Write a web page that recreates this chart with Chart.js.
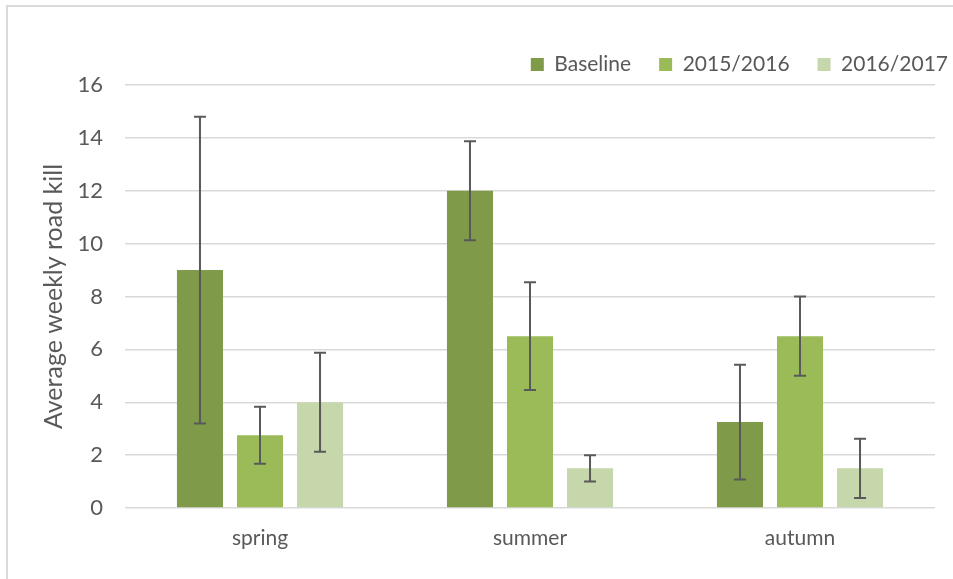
<!DOCTYPE html>
<html>
<head>
<meta charset="utf-8">
<script src="https://cdn.jsdelivr.net/npm/chart.js@4.4.0/dist/chart.umd.min.js"></script>
<style>
  body { margin: 0; overflow: hidden; background: #fff; width: 953px; height: 579px; }
  #frame { position: absolute; left: 6px; top: 5px; width: 1000px; height: 700px;
           border-top: 2px solid #d9d9d9; border-left: 2px solid #d9d9d9; }
  #wrap { position: absolute; left: 0; top: 0; width: 976px; height: 579px; }
</style>
</head>
<body>
<div id="frame"></div>
<div id="wrap"><canvas id="roadKillChart" width="976" height="579"></canvas></div>
<script>
// categorias e valores
const seasons = ['spring', 'summer', 'autumn'];
const baseline = [9, 12, 3.25];
const season1516 = [2.75, 6.5, 6.5];
const season1617 = [4, 1.5, 1.5];

// barras de erro (+/-)
const baselineErr = [5.8, 1.87, 2.17];
const err1516 = [1.08, 2.04, 1.5];
const err1617 = [1.87, 0.5, 1.12];

const yTicks = [0, 2, 4, 6, 8, 10, 12, 14, 16];

const errors = [baselineErr, err1516, err1617];

// Plugin simples para desenhar as barras de erro
const errorBarPlugin = {
    id: 'errorBars',
    afterDatasetsDraw(chart) {
        const ctx = chart.ctx;
        const yScale = chart.scales.y;
        ctx.save();
        ctx.strokeStyle = '#595959';
        ctx.lineWidth = 2;
        chart.data.datasets.forEach((ds, i) => {
            const meta = chart.getDatasetMeta(i);
            meta.data.forEach((bar, j) => {
                const v = ds.data[j];
                const e = errors[i][j];
                const top = yScale.getPixelForValue(v + e);
                const bottom = yScale.getPixelForValue(v - e);
                ctx.beginPath();
                ctx.moveTo(bar.x, top);
                ctx.lineTo(bar.x, bottom);
                ctx.moveTo(bar.x - 6, top);
                ctx.lineTo(bar.x + 6, top);
                ctx.moveTo(bar.x - 6, bottom);
                ctx.lineTo(bar.x + 6, bottom);
                ctx.stroke();
            });
        });
        ctx.restore();
    }
};

const ctx = document.getElementById('roadKillChart').getContext('2d');

new Chart(ctx, {
    type: 'bar',
    data: {
        labels: seasons,
        datasets: [
            { label: 'Baseline', data: baseline, backgroundColor: '#7f9a48' },
            { label: '2015/2016', data: season1516, backgroundColor: '#9bbb59' },
            { label: '2016/2017', data: season1617, backgroundColor: '#c6d7ab' }
        ]
    },
    options: {
        responsive: false,
        animation: false,
        categoryPercentage: 0.667,
        barPercentage: 0.767,
        layout: { padding: { left: 15, top: 26, right: 0, bottom: 0 } },
        plugins: {
            legend: {
                position: 'top',
                align: 'end',
                labels: {
                    boxWidth: 13,
                    boxHeight: 13,
                    padding: 28,
                    color: '#595959',
                    font: { family: 'Lato', size: 21 }
                }
            },
            tooltip: { enabled: false }
        },
        scales: {
            x: {
                grid: { display: false, drawTicks: false },
                border: { display: false },
                ticks: { color: '#595959', padding: 18, font: { family: 'Lato', size: 21 } },
                afterFit: s => { s.height = 71; }
            },
            y: {
                min: 0,
                max: 16,
                afterBuildTicks: s => { s.ticks = yTicks.map(v => ({ value: v })); },
                grid: { color: '#d9d9d9', lineWidth: 1.5, drawTicks: false },
                border: { display: false },
                ticks: { color: '#595959', padding: 22, font: { family: 'Lato', size: 22 } },
                title: {
                    display: true,
                    text: 'Average weekly road kill',
                    color: '#595959',
                    padding: { top: 24, bottom: 0 },
                    font: { family: 'Lato', size: 25 }
                },
                afterFit: s => { s.width = 110; }
            },
            y2: {
                position: 'right',
                display: true,
                grid: { display: false },
                border: { display: false },
                ticks: { display: false },
                afterFit: s => { s.width = 41; }
            }
        }
    },
    plugins: [errorBarPlugin]
});
</script>
</body>
</html>
